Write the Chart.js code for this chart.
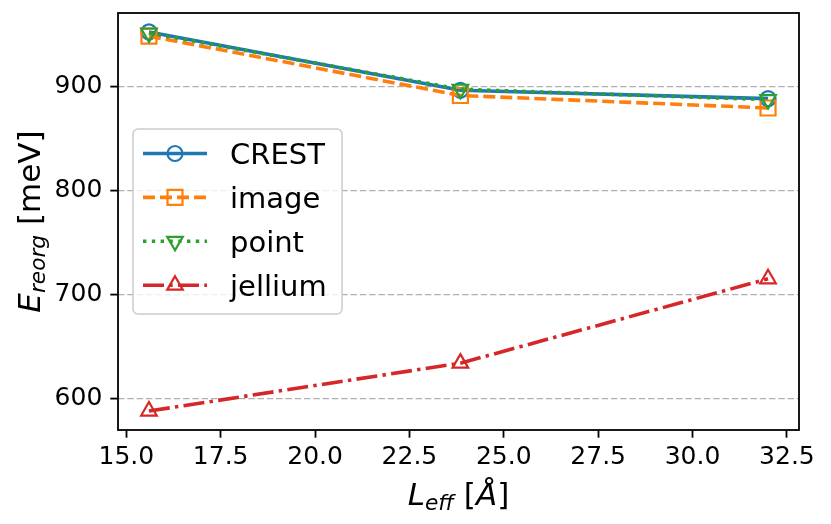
<!DOCTYPE html>
<html>
<head>
<meta charset="utf-8">
<script src="https://cdn.jsdelivr.net/npm/chart.js@4.4.1/dist/chart.umd.min.js"></script>
<style>
  html, body { margin: 0; padding: 0; background: #fff; }
  #wrap { width: 831px; height: 524px; }
</style>
</head>
<body>
<div id="wrap"><canvas id="chart" width="831" height="524"></canvas></div>
<script>
// Datos
const lengths = [15.6, 23.85, 32.0];
const crest = [952, 896, 888];
const image = [948, 891, 879];
const point = [951, 897, 887];
const jellium = [588, 634, 715];
const xTicks = [15, 17.5, 20, 22.5, 25, 27.5, 30, 32.5];
const yTicks = [600, 700, 800, 900];

const FONT = "'DejaVu Sans', sans-serif";
const LINE_W = 3.6;

// estilo de cada serie (colores de matplotlib)
const series = [
    { label: 'CREST', values: crest, color: '#1f77b4', dash: [], style: 'circle', radius: 7.5, rot: 0 },
    { label: 'image', values: image, color: '#ff7f0e', dash: [12, 5], style: 'rect', radius: 10.6, rot: 0 },
    { label: 'point', values: point, color: '#2ca02c', dash: [3.4, 5.4], style: 'triangle', radius: 9, rot: 180 },
    { label: 'jellium', values: jellium, color: '#d62728', dash: [21, 5.3, 3.4, 5.3], style: 'triangle', radius: 9, rot: 0 }
];

const datasets = series.map((s, i) => ({
    label: s.label,
    data: lengths.map((x, j) => ({ x: x, y: s.values[j] })),
    borderColor: s.color,
    borderWidth: LINE_W,
    borderDash: s.dash,
    backgroundColor: 'rgba(0,0,0,0)',
    fill: false,
    tension: 0,
    pointStyle: s.style,
    pointRadius: s.radius,
    pointHoverRadius: s.radius,
    pointRotation: s.rot,
    pointBorderWidth: 2.2,
    pointBorderColor: s.color,
    pointBackgroundColor: 'rgba(0,0,0,0)',
    order: series.length - i  // las ultimas series quedan encima, como en matplotlib
}));

// escribe trozos de texto (normal / cursiva / subindice) en una linea
function drawParts(ctx, parts, cx, baseline) {
    let total = 0;
    parts.forEach(p => { ctx.font = p.font; p.w = ctx.measureText(p.t).width; total += p.w; });
    let x = cx - total / 2;
    ctx.textAlign = 'left';
    ctx.textBaseline = 'alphabetic';
    parts.forEach(p => {
        ctx.font = p.font;
        ctx.fillText(p.t, x, baseline + (p.dy || 0));
        x += p.w;
    });
}

const decorations = {
    id: 'decorations',
    afterDraw(chart) {
        const ctx = chart.ctx;
        const ca = chart.chartArea;
        ctx.save();

        // marco completo de los ejes
        ctx.strokeStyle = '#000';
        ctx.lineWidth = 1.8;
        ctx.setLineDash([]);
        ctx.strokeRect(ca.left, ca.top, ca.right - ca.left, ca.bottom - ca.top);

        // leyenda
        const bx = ca.left + 15, by = ca.top + 116, bw = 209, bh = 185;
        ctx.beginPath();
        ctx.roundRect(bx, by, bw, bh, 5);
        ctx.fillStyle = 'rgba(255,255,255,0.8)';
        ctx.fill();
        ctx.strokeStyle = '#cccccc';
        ctx.lineWidth = 1.5;
        ctx.stroke();

        series.forEach((s, i) => {
            const y = by + 24.5 + i * 43.9;
            ctx.beginPath();
            ctx.setLineDash(s.dash);
            ctx.strokeStyle = s.color;
            ctx.lineWidth = LINE_W;
            ctx.moveTo(bx + 10, y);
            ctx.lineTo(bx + 74, y);
            ctx.stroke();
            ctx.setLineDash([]);
            ctx.strokeStyle = s.color;
            ctx.fillStyle = 'rgba(0,0,0,0)';
            ctx.lineWidth = 2.2;
            Chart.helpers.drawPoint(ctx, { pointStyle: s.style, radius: s.radius, rotation: s.rot, borderWidth: 2.2 }, bx + 42, y);
            ctx.fillStyle = '#000';
            ctx.font = '29px ' + FONT;
            ctx.textAlign = 'left';
            ctx.textBaseline = 'alphabetic';
            ctx.fillText(s.label, bx + 97, y + 10.5);
        });

        // titulos de los ejes
        ctx.fillStyle = '#000';
        drawParts(ctx, [
            { t: 'L', font: 'italic 31px ' + FONT },
            { t: 'eff', font: 'italic 21.7px ' + FONT, dy: 5 },
            { t: ' [', font: '31px ' + FONT },
            { t: 'Å', font: 'italic 31px ' + FONT },
            { t: ']', font: '31px ' + FONT }
        ], (ca.left + ca.right) / 2, 505);

        ctx.save();
        ctx.translate(40, (ca.top + ca.bottom) / 2);
        ctx.rotate(-Math.PI / 2);
        drawParts(ctx, [
            { t: 'E', font: 'italic 31px ' + FONT },
            { t: 'reorg', font: 'italic 21.7px ' + FONT, dy: 5 },
            { t: ' [meV]', font: '31px ' + FONT }
        ], 0, 0);
        ctx.restore();

        ctx.restore();
    }
};

function resetPadding(scale) {
    scale.paddingLeft = 0;
    scale.paddingRight = 0;
    scale.paddingTop = 0;
    scale.paddingBottom = 0;
}

new Chart(document.getElementById('chart').getContext('2d'), {
    type: 'line',
    data: { datasets: datasets },
    options: {
        responsive: false,
        animation: false,
        devicePixelRatio: 1,
        layout: { padding: { top: 13, right: 32, left: 0, bottom: 0 } },
        plugins: { legend: { display: false }, tooltip: { enabled: false } },
        scales: {
            x: {
                type: 'linear',
                min: 14.78,
                max: 32.82,
                afterBuildTicks: s => { s.ticks = xTicks.map(v => ({ value: v })); },
                afterFit: s => { s.height = 94; resetPadding(s); },
                ticks: {
                    callback: v => Number(v).toFixed(1),
                    font: { family: FONT, size: 25 },
                    color: '#000',
                    padding: 5,
                    maxRotation: 0,
                    autoSkip: false
                },
                grid: { drawOnChartArea: false, drawTicks: true, tickLength: 7.7, tickWidth: 1.8, tickColor: '#000' },
                border: { display: false }
            },
            y: {
                type: 'linear',
                min: 569.8,
                max: 970.2,
                afterBuildTicks: s => { s.ticks = yTicks.map(v => ({ value: v })); },
                afterFit: s => { s.width = 118; resetPadding(s); },
                ticks: {
                    callback: v => String(v),
                    font: { family: FONT, size: 25 },
                    color: '#000',
                    padding: 8
                },
                grid: {
                    color: '#b0b0b0', lineWidth: 1.2, borderDash: [6.5, 2.8],
                    tickLength: 7.7, tickWidth: 1.8, tickColor: '#000', tickBorderDash: []
                },
                border: { display: false, dash: [6.5, 2.8] }
            }
        }
    },
    plugins: [decorations]
});
</script>
</body>
</html>
